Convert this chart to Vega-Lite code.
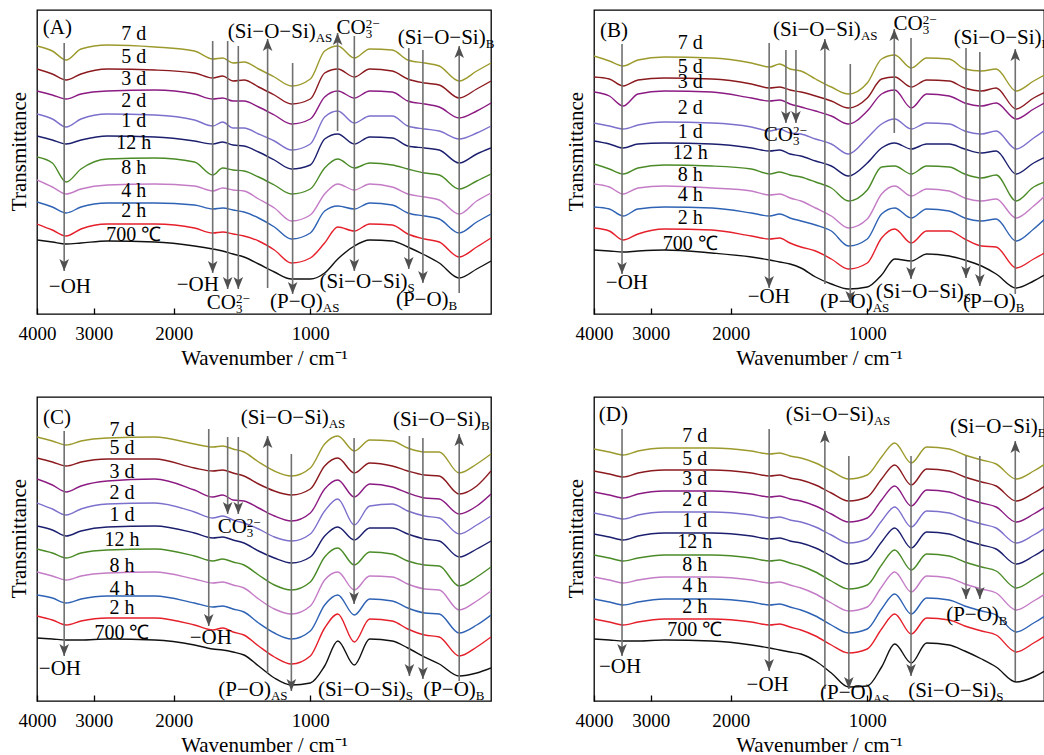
{
"$schema": "https://vega.github.io/schema/vega-lite/v6.json",
"background": "white",
"padding": {"left": 7, "top": 9, "right": 0, "bottom": 0},
"bounds": "flush",
"columns": 2,
"spacing": {"row": 83, "column": 103},
"config": {
  "font": "Liberation Serif",
  "view": {"stroke": "#000000", "strokeWidth": 1.3},
  "axis": {"grid": false, "domain": false, "titleFont": "Liberation Serif", "labelFont": "Liberation Serif", "titleFontWeight": "normal", "titleColor": "#000000", "labelColor": "#000000", "titleFontSize": 21},
  "axisX": {"tickSize": -6, "tickColor": "#000000", "tickWidth": 1.3, "labelFontSize": 19, "labelPadding": 31, "labelBaseline": "alphabetic", "labelFlush": false, "labelOverlap": false, "titleY": 50, "titleBaseline": "alphabetic"},
  "axisY": {"ticks": false, "labels": false, "titleX": -12, "titleY": 141, "titleAngle": 270, "titleBaseline": "alphabetic", "titleAlign": "center"},
  "text": {"font": "Liberation Serif", "color": "#000000"}
},
"datasets": {
"A": [
{"s":"7 d","w":4000,"v":268},{"s":"7 d","w":3700,"v":263},{"s":"7 d","w":3450,"v":254},{"s":"7 d","w":3200,"v":265},{"s":"7 d","w":2800,"v":269},{"s":"7 d","w":2200,"v":267},{"s":"7 d","w":1800,"v":263},{"s":"7 d","w":1640,"v":255},{"s":"7 d","w":1560,"v":256},{"s":"7 d","w":1480,"v":251},{"s":"7 d","w":1400,"v":252},{"s":"7 d","w":1300,"v":245},{"s":"7 d","w":1200,"v":237},{"s":"7 d","w":1100,"v":228},{"s":"7 d","w":1000,"v":235},{"s":"7 d","w":930,"v":263},{"s":"7 d","w":870,"v":268},{"s":"7 d","w":800,"v":256},{"s":"7 d","w":740,"v":265},{"s":"7 d","w":660,"v":264},{"s":"7 d","w":610,"v":254},{"s":"7 d","w":560,"v":251},{"s":"7 d","w":520,"v":248},{"s":"7 d","w":470,"v":233},{"s":"7 d","w":430,"v":243},{"s":"7 d","w":400,"v":251},
{"s":"5 d","w":4000,"v":245},{"s":"5 d","w":3700,"v":240},{"s":"5 d","w":3450,"v":234},{"s":"5 d","w":3200,"v":240},{"s":"5 d","w":2800,"v":245},{"s":"5 d","w":2200,"v":244},{"s":"5 d","w":1800,"v":241},{"s":"5 d","w":1640,"v":236},{"s":"5 d","w":1560,"v":238},{"s":"5 d","w":1480,"v":233},{"s":"5 d","w":1400,"v":234},{"s":"5 d","w":1300,"v":227},{"s":"5 d","w":1200,"v":219},{"s":"5 d","w":1100,"v":210},{"s":"5 d","w":1000,"v":215},{"s":"5 d","w":930,"v":241},{"s":"5 d","w":870,"v":245},{"s":"5 d","w":800,"v":237},{"s":"5 d","w":740,"v":245},{"s":"5 d","w":660,"v":243},{"s":"5 d","w":610,"v":235},{"s":"5 d","w":560,"v":231},{"s":"5 d","w":520,"v":229},{"s":"5 d","w":470,"v":216},{"s":"5 d","w":430,"v":225},{"s":"5 d","w":400,"v":233},
{"s":"3 d","w":4000,"v":223},{"s":"3 d","w":3700,"v":219},{"s":"3 d","w":3450,"v":215},{"s":"3 d","w":3200,"v":220},{"s":"3 d","w":2800,"v":223},{"s":"3 d","w":2200,"v":224},{"s":"3 d","w":1800,"v":220},{"s":"3 d","w":1640,"v":215},{"s":"3 d","w":1560,"v":216},{"s":"3 d","w":1480,"v":213},{"s":"3 d","w":1400,"v":213},{"s":"3 d","w":1300,"v":207},{"s":"3 d","w":1200,"v":199},{"s":"3 d","w":1100,"v":190},{"s":"3 d","w":1000,"v":195},{"s":"3 d","w":930,"v":217},{"s":"3 d","w":870,"v":223},{"s":"3 d","w":800,"v":216},{"s":"3 d","w":740,"v":223},{"s":"3 d","w":660,"v":222},{"s":"3 d","w":610,"v":213},{"s":"3 d","w":560,"v":210},{"s":"3 d","w":520,"v":207},{"s":"3 d","w":470,"v":196},{"s":"3 d","w":430,"v":203},{"s":"3 d","w":400,"v":211},
{"s":"2 d","w":4000,"v":200},{"s":"2 d","w":3700,"v":195},{"s":"2 d","w":3450,"v":187},{"s":"2 d","w":3200,"v":195},{"s":"2 d","w":2800,"v":200},{"s":"2 d","w":2200,"v":199},{"s":"2 d","w":1800,"v":194},{"s":"2 d","w":1640,"v":188},{"s":"2 d","w":1560,"v":192},{"s":"2 d","w":1480,"v":186},{"s":"2 d","w":1400,"v":186},{"s":"2 d","w":1300,"v":180},{"s":"2 d","w":1200,"v":173},{"s":"2 d","w":1100,"v":164},{"s":"2 d","w":1000,"v":170},{"s":"2 d","w":930,"v":197},{"s":"2 d","w":870,"v":203},{"s":"2 d","w":800,"v":191},{"s":"2 d","w":740,"v":198},{"s":"2 d","w":660,"v":198},{"s":"2 d","w":610,"v":188},{"s":"2 d","w":560,"v":185},{"s":"2 d","w":520,"v":183},{"s":"2 d","w":470,"v":175},{"s":"2 d","w":430,"v":181},{"s":"2 d","w":400,"v":188},
{"s":"1 d","w":4000,"v":178},{"s":"1 d","w":3700,"v":174},{"s":"1 d","w":3450,"v":170},{"s":"1 d","w":3200,"v":174},{"s":"1 d","w":2800,"v":178},{"s":"1 d","w":2200,"v":177},{"s":"1 d","w":1800,"v":173},{"s":"1 d","w":1640,"v":170},{"s":"1 d","w":1560,"v":172},{"s":"1 d","w":1480,"v":169},{"s":"1 d","w":1400,"v":168},{"s":"1 d","w":1300,"v":162},{"s":"1 d","w":1200,"v":154},{"s":"1 d","w":1100,"v":145},{"s":"1 d","w":1000,"v":149},{"s":"1 d","w":930,"v":175},{"s":"1 d","w":870,"v":180},{"s":"1 d","w":800,"v":170},{"s":"1 d","w":740,"v":177},{"s":"1 d","w":660,"v":176},{"s":"1 d","w":610,"v":168},{"s":"1 d","w":560,"v":166},{"s":"1 d","w":520,"v":164},{"s":"1 d","w":470,"v":151},{"s":"1 d","w":430,"v":160},{"s":"1 d","w":400,"v":166},
{"s":"12 h","w":4000,"v":157},{"s":"12 h","w":3700,"v":151},{"s":"12 h","w":3450,"v":132},{"s":"12 h","w":3200,"v":145},{"s":"12 h","w":2800,"v":155},{"s":"12 h","w":2200,"v":156},{"s":"12 h","w":1800,"v":152},{"s":"12 h","w":1640,"v":139},{"s":"12 h","w":1560,"v":146},{"s":"12 h","w":1480,"v":144},{"s":"12 h","w":1400,"v":143},{"s":"12 h","w":1300,"v":137},{"s":"12 h","w":1200,"v":129},{"s":"12 h","w":1100,"v":120},{"s":"12 h","w":1000,"v":125},{"s":"12 h","w":930,"v":146},{"s":"12 h","w":870,"v":155},{"s":"12 h","w":800,"v":146},{"s":"12 h","w":740,"v":151},{"s":"12 h","w":660,"v":149},{"s":"12 h","w":610,"v":145},{"s":"12 h","w":560,"v":141},{"s":"12 h","w":520,"v":139},{"s":"12 h","w":470,"v":125},{"s":"12 h","w":430,"v":133},{"s":"12 h","w":400,"v":140},
{"s":"8 h","w":4000,"v":134},{"s":"8 h","w":3700,"v":127},{"s":"8 h","w":3450,"v":120},{"s":"8 h","w":3200,"v":125},{"s":"8 h","w":2800,"v":129},{"s":"8 h","w":2200,"v":130},{"s":"8 h","w":1800,"v":128},{"s":"8 h","w":1640,"v":123},{"s":"8 h","w":1560,"v":126},{"s":"8 h","w":1480,"v":124},{"s":"8 h","w":1400,"v":123},{"s":"8 h","w":1300,"v":115},{"s":"8 h","w":1200,"v":106},{"s":"8 h","w":1100,"v":93},{"s":"8 h","w":1000,"v":99},{"s":"8 h","w":930,"v":120},{"s":"8 h","w":870,"v":130},{"s":"8 h","w":800,"v":124},{"s":"8 h","w":740,"v":130},{"s":"8 h","w":660,"v":127},{"s":"8 h","w":610,"v":120},{"s":"8 h","w":560,"v":117},{"s":"8 h","w":520,"v":114},{"s":"8 h","w":470,"v":100},{"s":"8 h","w":430,"v":113},{"s":"8 h","w":400,"v":121},
{"s":"4 h","w":4000,"v":112},{"s":"4 h","w":3700,"v":107},{"s":"4 h","w":3450,"v":101},{"s":"4 h","w":3200,"v":107},{"s":"4 h","w":2800,"v":111},{"s":"4 h","w":2200,"v":111},{"s":"4 h","w":1800,"v":109},{"s":"4 h","w":1640,"v":105},{"s":"4 h","w":1560,"v":106},{"s":"4 h","w":1480,"v":104},{"s":"4 h","w":1400,"v":102},{"s":"4 h","w":1300,"v":96},{"s":"4 h","w":1200,"v":87},{"s":"4 h","w":1100,"v":75},{"s":"4 h","w":1000,"v":81},{"s":"4 h","w":930,"v":103},{"s":"4 h","w":870,"v":108},{"s":"4 h","w":800,"v":105},{"s":"4 h","w":740,"v":111},{"s":"4 h","w":660,"v":109},{"s":"4 h","w":610,"v":101},{"s":"4 h","w":560,"v":98},{"s":"4 h","w":520,"v":95},{"s":"4 h","w":470,"v":81},{"s":"4 h","w":430,"v":92},{"s":"4 h","w":400,"v":100},
{"s":"2 h","w":4000,"v":90},{"s":"2 h","w":3700,"v":84},{"s":"2 h","w":3450,"v":78},{"s":"2 h","w":3200,"v":85},{"s":"2 h","w":2800,"v":90},{"s":"2 h","w":2200,"v":90},{"s":"2 h","w":1800,"v":86},{"s":"2 h","w":1640,"v":81},{"s":"2 h","w":1560,"v":82},{"s":"2 h","w":1480,"v":80},{"s":"2 h","w":1400,"v":78},{"s":"2 h","w":1300,"v":73},{"s":"2 h","w":1200,"v":64},{"s":"2 h","w":1100,"v":51},{"s":"2 h","w":1000,"v":56},{"s":"2 h","w":930,"v":71},{"s":"2 h","w":870,"v":87},{"s":"2 h","w":800,"v":83},{"s":"2 h","w":740,"v":90},{"s":"2 h","w":660,"v":89},{"s":"2 h","w":610,"v":80},{"s":"2 h","w":560,"v":75},{"s":"2 h","w":520,"v":72},{"s":"2 h","w":470,"v":57},{"s":"2 h","w":430,"v":67},{"s":"2 h","w":400,"v":76},
{"s":"700 ℃","w":4000,"v":74},{"s":"700 ℃","w":3700,"v":72},{"s":"700 ℃","w":3450,"v":70},{"s":"700 ℃","w":3200,"v":71},{"s":"700 ℃","w":2800,"v":73},{"s":"700 ℃","w":2200,"v":72},{"s":"700 ℃","w":1800,"v":68},{"s":"700 ℃","w":1640,"v":65},{"s":"700 ℃","w":1560,"v":63},{"s":"700 ℃","w":1480,"v":60},{"s":"700 ℃","w":1400,"v":57},{"s":"700 ℃","w":1300,"v":50},{"s":"700 ℃","w":1200,"v":42},{"s":"700 ℃","w":1100,"v":35},{"s":"700 ℃","w":1000,"v":35},{"s":"700 ℃","w":930,"v":41},{"s":"700 ℃","w":870,"v":55},{"s":"700 ℃","w":800,"v":68},{"s":"700 ℃","w":740,"v":74},{"s":"700 ℃","w":660,"v":73},{"s":"700 ℃","w":610,"v":67},{"s":"700 ℃","w":560,"v":59},{"s":"700 ℃","w":520,"v":51},{"s":"700 ℃","w":470,"v":36},{"s":"700 ℃","w":430,"v":45},{"s":"700 ℃","w":400,"v":53}
],
"B": [
{"s":"7 d","w":4000,"v":258},{"s":"7 d","w":3700,"v":253},{"s":"7 d","w":3450,"v":248},{"s":"7 d","w":3200,"v":254},{"s":"7 d","w":2800,"v":257},{"s":"7 d","w":2200,"v":256},{"s":"7 d","w":1800,"v":251},{"s":"7 d","w":1640,"v":247},{"s":"7 d","w":1560,"v":250},{"s":"7 d","w":1480,"v":245},{"s":"7 d","w":1400,"v":243},{"s":"7 d","w":1300,"v":235},{"s":"7 d","w":1200,"v":227},{"s":"7 d","w":1100,"v":220},{"s":"7 d","w":1000,"v":231},{"s":"7 d","w":930,"v":255},{"s":"7 d","w":870,"v":259},{"s":"7 d","w":800,"v":246},{"s":"7 d","w":740,"v":256},{"s":"7 d","w":660,"v":255},{"s":"7 d","w":610,"v":245},{"s":"7 d","w":560,"v":243},{"s":"7 d","w":520,"v":245},{"s":"7 d","w":470,"v":223},{"s":"7 d","w":430,"v":233},{"s":"7 d","w":400,"v":241},
{"s":"5 d","w":4000,"v":237},{"s":"5 d","w":3700,"v":235},{"s":"5 d","w":3450,"v":228},{"s":"5 d","w":3200,"v":234},{"s":"5 d","w":2800,"v":236},{"s":"5 d","w":2200,"v":235},{"s":"5 d","w":1800,"v":230},{"s":"5 d","w":1640,"v":226},{"s":"5 d","w":1560,"v":227},{"s":"5 d","w":1480,"v":224},{"s":"5 d","w":1400,"v":222},{"s":"5 d","w":1300,"v":218},{"s":"5 d","w":1200,"v":213},{"s":"5 d","w":1100,"v":206},{"s":"5 d","w":1000,"v":216},{"s":"5 d","w":930,"v":235},{"s":"5 d","w":870,"v":237},{"s":"5 d","w":800,"v":227},{"s":"5 d","w":740,"v":234},{"s":"5 d","w":660,"v":233},{"s":"5 d","w":610,"v":226},{"s":"5 d","w":560,"v":223},{"s":"5 d","w":520,"v":226},{"s":"5 d","w":470,"v":205},{"s":"5 d","w":430,"v":216},{"s":"5 d","w":400,"v":223},
{"s":"3 d","w":4000,"v":222},{"s":"3 d","w":3700,"v":218},{"s":"3 d","w":3450,"v":208},{"s":"3 d","w":3200,"v":220},{"s":"3 d","w":2800,"v":223},{"s":"3 d","w":2200,"v":222},{"s":"3 d","w":1800,"v":216},{"s":"3 d","w":1640,"v":213},{"s":"3 d","w":1560,"v":214},{"s":"3 d","w":1480,"v":210},{"s":"3 d","w":1400,"v":207},{"s":"3 d","w":1300,"v":203},{"s":"3 d","w":1200,"v":198},{"s":"3 d","w":1100,"v":190},{"s":"3 d","w":1000,"v":203},{"s":"3 d","w":930,"v":220},{"s":"3 d","w":870,"v":224},{"s":"3 d","w":800,"v":206},{"s":"3 d","w":740,"v":220},{"s":"3 d","w":660,"v":218},{"s":"3 d","w":610,"v":211},{"s":"3 d","w":560,"v":208},{"s":"3 d","w":520,"v":211},{"s":"3 d","w":470,"v":195},{"s":"3 d","w":430,"v":205},{"s":"3 d","w":400,"v":213},
{"s":"2 d","w":4000,"v":191},{"s":"2 d","w":3700,"v":188},{"s":"2 d","w":3450,"v":185},{"s":"2 d","w":3200,"v":189},{"s":"2 d","w":2800,"v":192},{"s":"2 d","w":2200,"v":191},{"s":"2 d","w":1800,"v":187},{"s":"2 d","w":1640,"v":183},{"s":"2 d","w":1560,"v":185},{"s":"2 d","w":1480,"v":181},{"s":"2 d","w":1400,"v":180},{"s":"2 d","w":1300,"v":175},{"s":"2 d","w":1200,"v":170},{"s":"2 d","w":1100,"v":160},{"s":"2 d","w":1000,"v":176},{"s":"2 d","w":930,"v":190},{"s":"2 d","w":870,"v":195},{"s":"2 d","w":800,"v":185},{"s":"2 d","w":740,"v":191},{"s":"2 d","w":660,"v":190},{"s":"2 d","w":610,"v":183},{"s":"2 d","w":560,"v":180},{"s":"2 d","w":520,"v":183},{"s":"2 d","w":470,"v":165},{"s":"2 d","w":430,"v":176},{"s":"2 d","w":400,"v":186},
{"s":"1 d","w":4000,"v":173},{"s":"1 d","w":3700,"v":170},{"s":"1 d","w":3450,"v":166},{"s":"1 d","w":3200,"v":170},{"s":"1 d","w":2800,"v":171},{"s":"1 d","w":2200,"v":170},{"s":"1 d","w":1800,"v":166},{"s":"1 d","w":1640,"v":163},{"s":"1 d","w":1560,"v":164},{"s":"1 d","w":1480,"v":160},{"s":"1 d","w":1400,"v":158},{"s":"1 d","w":1300,"v":153},{"s":"1 d","w":1200,"v":148},{"s":"1 d","w":1100,"v":138},{"s":"1 d","w":1000,"v":151},{"s":"1 d","w":930,"v":166},{"s":"1 d","w":870,"v":171},{"s":"1 d","w":800,"v":165},{"s":"1 d","w":740,"v":170},{"s":"1 d","w":660,"v":170},{"s":"1 d","w":610,"v":165},{"s":"1 d","w":560,"v":161},{"s":"1 d","w":520,"v":163},{"s":"1 d","w":470,"v":140},{"s":"1 d","w":430,"v":151},{"s":"1 d","w":400,"v":158},
{"s":"12 h","w":4000,"v":150},{"s":"12 h","w":3700,"v":145},{"s":"12 h","w":3450,"v":140},{"s":"12 h","w":3200,"v":146},{"s":"12 h","w":2800,"v":149},{"s":"12 h","w":2200,"v":148},{"s":"12 h","w":1800,"v":145},{"s":"12 h","w":1640,"v":140},{"s":"12 h","w":1560,"v":142},{"s":"12 h","w":1480,"v":139},{"s":"12 h","w":1400,"v":137},{"s":"12 h","w":1300,"v":132},{"s":"12 h","w":1200,"v":126},{"s":"12 h","w":1100,"v":113},{"s":"12 h","w":1000,"v":124},{"s":"12 h","w":930,"v":147},{"s":"12 h","w":870,"v":148},{"s":"12 h","w":800,"v":140},{"s":"12 h","w":740,"v":148},{"s":"12 h","w":660,"v":147},{"s":"12 h","w":610,"v":140},{"s":"12 h","w":560,"v":136},{"s":"12 h","w":520,"v":139},{"s":"12 h","w":470,"v":113},{"s":"12 h","w":430,"v":127},{"s":"12 h","w":400,"v":133},
{"s":"8 h","w":4000,"v":130},{"s":"8 h","w":3700,"v":127},{"s":"8 h","w":3450,"v":120},{"s":"8 h","w":3200,"v":126},{"s":"8 h","w":2800,"v":128},{"s":"8 h","w":2200,"v":126},{"s":"8 h","w":1800,"v":123},{"s":"8 h","w":1640,"v":119},{"s":"8 h","w":1560,"v":120},{"s":"8 h","w":1480,"v":116},{"s":"8 h","w":1400,"v":113},{"s":"8 h","w":1300,"v":106},{"s":"8 h","w":1200,"v":98},{"s":"8 h","w":1100,"v":86},{"s":"8 h","w":1000,"v":95},{"s":"8 h","w":930,"v":120},{"s":"8 h","w":870,"v":128},{"s":"8 h","w":800,"v":118},{"s":"8 h","w":740,"v":125},{"s":"8 h","w":660,"v":123},{"s":"8 h","w":610,"v":116},{"s":"8 h","w":560,"v":113},{"s":"8 h","w":520,"v":115},{"s":"8 h","w":470,"v":96},{"s":"8 h","w":430,"v":108},{"s":"8 h","w":400,"v":121},
{"s":"4 h","w":4000,"v":107},{"s":"4 h","w":3700,"v":105},{"s":"4 h","w":3450,"v":98},{"s":"4 h","w":3200,"v":105},{"s":"4 h","w":2800,"v":107},{"s":"4 h","w":2200,"v":106},{"s":"4 h","w":1800,"v":101},{"s":"4 h","w":1640,"v":98},{"s":"4 h","w":1560,"v":100},{"s":"4 h","w":1480,"v":96},{"s":"4 h","w":1400,"v":93},{"s":"4 h","w":1300,"v":89},{"s":"4 h","w":1200,"v":83},{"s":"4 h","w":1100,"v":68},{"s":"4 h","w":1000,"v":75},{"s":"4 h","w":930,"v":100},{"s":"4 h","w":870,"v":106},{"s":"4 h","w":800,"v":96},{"s":"4 h","w":740,"v":105},{"s":"4 h","w":660,"v":103},{"s":"4 h","w":610,"v":96},{"s":"4 h","w":560,"v":93},{"s":"4 h","w":520,"v":95},{"s":"4 h","w":470,"v":73},{"s":"4 h","w":430,"v":85},{"s":"4 h","w":400,"v":98},
{"s":"2 h","w":4000,"v":86},{"s":"2 h","w":3700,"v":83},{"s":"2 h","w":3450,"v":74},{"s":"2 h","w":3200,"v":80},{"s":"2 h","w":2800,"v":85},{"s":"2 h","w":2200,"v":84},{"s":"2 h","w":1800,"v":78},{"s":"2 h","w":1640,"v":75},{"s":"2 h","w":1560,"v":76},{"s":"2 h","w":1480,"v":71},{"s":"2 h","w":1400,"v":67},{"s":"2 h","w":1300,"v":63},{"s":"2 h","w":1200,"v":55},{"s":"2 h","w":1100,"v":45},{"s":"2 h","w":1000,"v":51},{"s":"2 h","w":930,"v":76},{"s":"2 h","w":870,"v":85},{"s":"2 h","w":800,"v":71},{"s":"2 h","w":740,"v":83},{"s":"2 h","w":660,"v":83},{"s":"2 h","w":610,"v":75},{"s":"2 h","w":560,"v":68},{"s":"2 h","w":520,"v":67},{"s":"2 h","w":470,"v":46},{"s":"2 h","w":430,"v":55},{"s":"2 h","w":400,"v":63},
{"s":"700 ℃","w":4000,"v":64},{"s":"700 ℃","w":3700,"v":63},{"s":"700 ℃","w":3450,"v":62},{"s":"700 ℃","w":3200,"v":63},{"s":"700 ℃","w":2800,"v":64},{"s":"700 ℃","w":2200,"v":61},{"s":"700 ℃","w":1800,"v":57},{"s":"700 ℃","w":1640,"v":54},{"s":"700 ℃","w":1560,"v":52},{"s":"700 ℃","w":1480,"v":50},{"s":"700 ℃","w":1400,"v":46},{"s":"700 ℃","w":1300,"v":37},{"s":"700 ℃","w":1200,"v":30},{"s":"700 ℃","w":1100,"v":25},{"s":"700 ℃","w":1000,"v":27},{"s":"700 ℃","w":930,"v":39},{"s":"700 ℃","w":870,"v":55},{"s":"700 ℃","w":800,"v":53},{"s":"700 ℃","w":740,"v":60},{"s":"700 ℃","w":660,"v":58},{"s":"700 ℃","w":610,"v":54},{"s":"700 ℃","w":560,"v":48},{"s":"700 ℃","w":520,"v":40},{"s":"700 ℃","w":470,"v":26},{"s":"700 ℃","w":430,"v":33},{"s":"700 ℃","w":400,"v":41}
],
"C": [
{"s":"7 d","w":4000,"v":264},{"s":"7 d","w":3700,"v":260},{"s":"7 d","w":3450,"v":256},{"s":"7 d","w":3200,"v":260},{"s":"7 d","w":2800,"v":263},{"s":"7 d","w":2200,"v":264},{"s":"7 d","w":1800,"v":257},{"s":"7 d","w":1640,"v":254},{"s":"7 d","w":1560,"v":255},{"s":"7 d","w":1480,"v":252},{"s":"7 d","w":1400,"v":249},{"s":"7 d","w":1300,"v":239},{"s":"7 d","w":1200,"v":230},{"s":"7 d","w":1100,"v":225},{"s":"7 d","w":1000,"v":233},{"s":"7 d","w":930,"v":257},{"s":"7 d","w":870,"v":265},{"s":"7 d","w":800,"v":250},{"s":"7 d","w":740,"v":261},{"s":"7 d","w":660,"v":260},{"s":"7 d","w":610,"v":253},{"s":"7 d","w":560,"v":249},{"s":"7 d","w":520,"v":249},{"s":"7 d","w":470,"v":228},{"s":"7 d","w":430,"v":237},{"s":"7 d","w":400,"v":247},
{"s":"5 d","w":4000,"v":243},{"s":"5 d","w":3700,"v":239},{"s":"5 d","w":3450,"v":235},{"s":"5 d","w":3200,"v":239},{"s":"5 d","w":2800,"v":242},{"s":"5 d","w":2200,"v":242},{"s":"5 d","w":1800,"v":233},{"s":"5 d","w":1640,"v":230},{"s":"5 d","w":1560,"v":231},{"s":"5 d","w":1480,"v":228},{"s":"5 d","w":1400,"v":225},{"s":"5 d","w":1300,"v":217},{"s":"5 d","w":1200,"v":210},{"s":"5 d","w":1100,"v":206},{"s":"5 d","w":1000,"v":212},{"s":"5 d","w":930,"v":235},{"s":"5 d","w":870,"v":243},{"s":"5 d","w":800,"v":228},{"s":"5 d","w":740,"v":238},{"s":"5 d","w":660,"v":235},{"s":"5 d","w":610,"v":230},{"s":"5 d","w":560,"v":226},{"s":"5 d","w":520,"v":225},{"s":"5 d","w":470,"v":207},{"s":"5 d","w":430,"v":215},{"s":"5 d","w":400,"v":230},
{"s":"3 d","w":4000,"v":222},{"s":"3 d","w":3700,"v":216},{"s":"3 d","w":3450,"v":209},{"s":"3 d","w":3200,"v":215},{"s":"3 d","w":2800,"v":220},{"s":"3 d","w":2200,"v":222},{"s":"3 d","w":1800,"v":211},{"s":"3 d","w":1640,"v":204},{"s":"3 d","w":1560,"v":206},{"s":"3 d","w":1480,"v":201},{"s":"3 d","w":1400,"v":200},{"s":"3 d","w":1300,"v":193},{"s":"3 d","w":1200,"v":185},{"s":"3 d","w":1100,"v":180},{"s":"3 d","w":1000,"v":188},{"s":"3 d","w":930,"v":212},{"s":"3 d","w":870,"v":221},{"s":"3 d","w":800,"v":204},{"s":"3 d","w":740,"v":217},{"s":"3 d","w":660,"v":214},{"s":"3 d","w":610,"v":208},{"s":"3 d","w":560,"v":203},{"s":"3 d","w":520,"v":202},{"s":"3 d","w":470,"v":187},{"s":"3 d","w":430,"v":195},{"s":"3 d","w":400,"v":207},
{"s":"2 d","w":4000,"v":198},{"s":"2 d","w":3700,"v":192},{"s":"2 d","w":3450,"v":186},{"s":"2 d","w":3200,"v":192},{"s":"2 d","w":2800,"v":197},{"s":"2 d","w":2200,"v":198},{"s":"2 d","w":1800,"v":189},{"s":"2 d","w":1640,"v":183},{"s":"2 d","w":1560,"v":185},{"s":"2 d","w":1480,"v":181},{"s":"2 d","w":1400,"v":178},{"s":"2 d","w":1300,"v":172},{"s":"2 d","w":1200,"v":164},{"s":"2 d","w":1100,"v":160},{"s":"2 d","w":1000,"v":167},{"s":"2 d","w":930,"v":190},{"s":"2 d","w":870,"v":202},{"s":"2 d","w":800,"v":176},{"s":"2 d","w":740,"v":195},{"s":"2 d","w":660,"v":197},{"s":"2 d","w":610,"v":190},{"s":"2 d","w":560,"v":185},{"s":"2 d","w":520,"v":183},{"s":"2 d","w":470,"v":167},{"s":"2 d","w":430,"v":176},{"s":"2 d","w":400,"v":185},
{"s":"1 d","w":4000,"v":175},{"s":"1 d","w":3700,"v":171},{"s":"1 d","w":3450,"v":165},{"s":"1 d","w":3200,"v":170},{"s":"1 d","w":2800,"v":174},{"s":"1 d","w":2200,"v":175},{"s":"1 d","w":1800,"v":168},{"s":"1 d","w":1640,"v":163},{"s":"1 d","w":1560,"v":164},{"s":"1 d","w":1480,"v":161},{"s":"1 d","w":1400,"v":158},{"s":"1 d","w":1300,"v":150},{"s":"1 d","w":1200,"v":143},{"s":"1 d","w":1100,"v":138},{"s":"1 d","w":1000,"v":144},{"s":"1 d","w":930,"v":165},{"s":"1 d","w":870,"v":174},{"s":"1 d","w":800,"v":161},{"s":"1 d","w":740,"v":173},{"s":"1 d","w":660,"v":173},{"s":"1 d","w":610,"v":167},{"s":"1 d","w":560,"v":162},{"s":"1 d","w":520,"v":160},{"s":"1 d","w":470,"v":144},{"s":"1 d","w":430,"v":152},{"s":"1 d","w":400,"v":160},
{"s":"12 h","w":4000,"v":152},{"s":"12 h","w":3700,"v":148},{"s":"12 h","w":3450,"v":143},{"s":"12 h","w":3200,"v":148},{"s":"12 h","w":2800,"v":151},{"s":"12 h","w":2200,"v":152},{"s":"12 h","w":1800,"v":145},{"s":"12 h","w":1640,"v":140},{"s":"12 h","w":1560,"v":142},{"s":"12 h","w":1480,"v":139},{"s":"12 h","w":1400,"v":136},{"s":"12 h","w":1300,"v":126},{"s":"12 h","w":1200,"v":116},{"s":"12 h","w":1100,"v":111},{"s":"12 h","w":1000,"v":119},{"s":"12 h","w":930,"v":144},{"s":"12 h","w":870,"v":153},{"s":"12 h","w":800,"v":136},{"s":"12 h","w":740,"v":149},{"s":"12 h","w":660,"v":147},{"s":"12 h","w":610,"v":140},{"s":"12 h","w":560,"v":136},{"s":"12 h","w":520,"v":135},{"s":"12 h","w":470,"v":115},{"s":"12 h","w":430,"v":124},{"s":"12 h","w":400,"v":134},
{"s":"8 h","w":4000,"v":129},{"s":"8 h","w":3700,"v":125},{"s":"8 h","w":3450,"v":121},{"s":"8 h","w":3200,"v":125},{"s":"8 h","w":2800,"v":128},{"s":"8 h","w":2200,"v":129},{"s":"8 h","w":1800,"v":122},{"s":"8 h","w":1640,"v":118},{"s":"8 h","w":1560,"v":119},{"s":"8 h","w":1480,"v":116},{"s":"8 h","w":1400,"v":113},{"s":"8 h","w":1300,"v":102},{"s":"8 h","w":1200,"v":92},{"s":"8 h","w":1100,"v":87},{"s":"8 h","w":1000,"v":95},{"s":"8 h","w":930,"v":121},{"s":"8 h","w":870,"v":129},{"s":"8 h","w":800,"v":111},{"s":"8 h","w":740,"v":125},{"s":"8 h","w":660,"v":124},{"s":"8 h","w":610,"v":117},{"s":"8 h","w":560,"v":112},{"s":"8 h","w":520,"v":111},{"s":"8 h","w":470,"v":91},{"s":"8 h","w":430,"v":100},{"s":"8 h","w":400,"v":110},
{"s":"4 h","w":4000,"v":106},{"s":"4 h","w":3700,"v":103},{"s":"4 h","w":3450,"v":98},{"s":"4 h","w":3200,"v":102},{"s":"4 h","w":2800,"v":105},{"s":"4 h","w":2200,"v":105},{"s":"4 h","w":1800,"v":98},{"s":"4 h","w":1640,"v":94},{"s":"4 h","w":1560,"v":95},{"s":"4 h","w":1480,"v":92},{"s":"4 h","w":1400,"v":89},{"s":"4 h","w":1300,"v":78},{"s":"4 h","w":1200,"v":68},{"s":"4 h","w":1100,"v":62},{"s":"4 h","w":1000,"v":70},{"s":"4 h","w":930,"v":96},{"s":"4 h","w":870,"v":106},{"s":"4 h","w":800,"v":86},{"s":"4 h","w":740,"v":102},{"s":"4 h","w":660,"v":100},{"s":"4 h","w":610,"v":93},{"s":"4 h","w":560,"v":88},{"s":"4 h","w":520,"v":87},{"s":"4 h","w":470,"v":68},{"s":"4 h","w":430,"v":76},{"s":"4 h","w":400,"v":86},
{"s":"2 h","w":4000,"v":85},{"s":"2 h","w":3700,"v":81},{"s":"2 h","w":3450,"v":76},{"s":"2 h","w":3200,"v":80},{"s":"2 h","w":2800,"v":83},{"s":"2 h","w":2200,"v":83},{"s":"2 h","w":1800,"v":76},{"s":"2 h","w":1640,"v":71},{"s":"2 h","w":1560,"v":73},{"s":"2 h","w":1480,"v":69},{"s":"2 h","w":1400,"v":66},{"s":"2 h","w":1300,"v":55},{"s":"2 h","w":1200,"v":44},{"s":"2 h","w":1100,"v":37},{"s":"2 h","w":1000,"v":45},{"s":"2 h","w":930,"v":73},{"s":"2 h","w":870,"v":87},{"s":"2 h","w":800,"v":59},{"s":"2 h","w":740,"v":82},{"s":"2 h","w":660,"v":80},{"s":"2 h","w":610,"v":72},{"s":"2 h","w":560,"v":66},{"s":"2 h","w":520,"v":64},{"s":"2 h","w":470,"v":45},{"s":"2 h","w":430,"v":54},{"s":"2 h","w":400,"v":64},
{"s":"700 ℃","w":4000,"v":63},{"s":"700 ℃","w":3700,"v":62},{"s":"700 ℃","w":3450,"v":61},{"s":"700 ℃","w":3200,"v":61},{"s":"700 ℃","w":2800,"v":62},{"s":"700 ℃","w":2200,"v":61},{"s":"700 ℃","w":1800,"v":56},{"s":"700 ℃","w":1640,"v":52},{"s":"700 ℃","w":1560,"v":51},{"s":"700 ℃","w":1480,"v":49},{"s":"700 ℃","w":1400,"v":46},{"s":"700 ℃","w":1300,"v":35},{"s":"700 ℃","w":1200,"v":23},{"s":"700 ℃","w":1100,"v":16},{"s":"700 ℃","w":1000,"v":18},{"s":"700 ℃","w":930,"v":35},{"s":"700 ℃","w":870,"v":60},{"s":"700 ℃","w":800,"v":36},{"s":"700 ℃","w":740,"v":62},{"s":"700 ℃","w":660,"v":60},{"s":"700 ℃","w":610,"v":53},{"s":"700 ℃","w":560,"v":44},{"s":"700 ℃","w":520,"v":37},{"s":"700 ℃","w":470,"v":25},{"s":"700 ℃","w":430,"v":28},{"s":"700 ℃","w":400,"v":33}
],
"D": [
{"s":"7 d","w":4000,"v":252},{"s":"7 d","w":3700,"v":249},{"s":"7 d","w":3450,"v":246},{"s":"7 d","w":3200,"v":250},{"s":"7 d","w":2800,"v":253},{"s":"7 d","w":2200,"v":253},{"s":"7 d","w":1800,"v":250},{"s":"7 d","w":1640,"v":247},{"s":"7 d","w":1560,"v":248},{"s":"7 d","w":1480,"v":245},{"s":"7 d","w":1400,"v":243},{"s":"7 d","w":1300,"v":238},{"s":"7 d","w":1200,"v":230},{"s":"7 d","w":1100,"v":222},{"s":"7 d","w":1000,"v":226},{"s":"7 d","w":930,"v":244},{"s":"7 d","w":870,"v":258},{"s":"7 d","w":800,"v":238},{"s":"7 d","w":740,"v":254},{"s":"7 d","w":660,"v":252},{"s":"7 d","w":610,"v":246},{"s":"7 d","w":560,"v":241},{"s":"7 d","w":520,"v":237},{"s":"7 d","w":470,"v":222},{"s":"7 d","w":430,"v":230},{"s":"7 d","w":400,"v":239},
{"s":"5 d","w":4000,"v":230},{"s":"5 d","w":3700,"v":227},{"s":"5 d","w":3450,"v":224},{"s":"5 d","w":3200,"v":228},{"s":"5 d","w":2800,"v":231},{"s":"5 d","w":2200,"v":231},{"s":"5 d","w":1800,"v":228},{"s":"5 d","w":1640,"v":225},{"s":"5 d","w":1560,"v":226},{"s":"5 d","w":1480,"v":223},{"s":"5 d","w":1400,"v":221},{"s":"5 d","w":1300,"v":216},{"s":"5 d","w":1200,"v":208},{"s":"5 d","w":1100,"v":200},{"s":"5 d","w":1000,"v":204},{"s":"5 d","w":930,"v":222},{"s":"5 d","w":870,"v":236},{"s":"5 d","w":800,"v":216},{"s":"5 d","w":740,"v":232},{"s":"5 d","w":660,"v":230},{"s":"5 d","w":610,"v":224},{"s":"5 d","w":560,"v":219},{"s":"5 d","w":520,"v":215},{"s":"5 d","w":470,"v":200},{"s":"5 d","w":430,"v":208},{"s":"5 d","w":400,"v":217},
{"s":"3 d","w":4000,"v":209},{"s":"3 d","w":3700,"v":206},{"s":"3 d","w":3450,"v":203},{"s":"3 d","w":3200,"v":207},{"s":"3 d","w":2800,"v":210},{"s":"3 d","w":2200,"v":210},{"s":"3 d","w":1800,"v":207},{"s":"3 d","w":1640,"v":204},{"s":"3 d","w":1560,"v":205},{"s":"3 d","w":1480,"v":202},{"s":"3 d","w":1400,"v":200},{"s":"3 d","w":1300,"v":195},{"s":"3 d","w":1200,"v":187},{"s":"3 d","w":1100,"v":179},{"s":"3 d","w":1000,"v":183},{"s":"3 d","w":930,"v":201},{"s":"3 d","w":870,"v":215},{"s":"3 d","w":800,"v":195},{"s":"3 d","w":740,"v":211},{"s":"3 d","w":660,"v":209},{"s":"3 d","w":610,"v":203},{"s":"3 d","w":560,"v":198},{"s":"3 d","w":520,"v":194},{"s":"3 d","w":470,"v":179},{"s":"3 d","w":430,"v":187},{"s":"3 d","w":400,"v":196},
{"s":"2 d","w":4000,"v":188},{"s":"2 d","w":3700,"v":185},{"s":"2 d","w":3450,"v":182},{"s":"2 d","w":3200,"v":186},{"s":"2 d","w":2800,"v":189},{"s":"2 d","w":2200,"v":189},{"s":"2 d","w":1800,"v":186},{"s":"2 d","w":1640,"v":183},{"s":"2 d","w":1560,"v":184},{"s":"2 d","w":1480,"v":181},{"s":"2 d","w":1400,"v":179},{"s":"2 d","w":1300,"v":174},{"s":"2 d","w":1200,"v":166},{"s":"2 d","w":1100,"v":158},{"s":"2 d","w":1000,"v":162},{"s":"2 d","w":930,"v":180},{"s":"2 d","w":870,"v":194},{"s":"2 d","w":800,"v":174},{"s":"2 d","w":740,"v":190},{"s":"2 d","w":660,"v":188},{"s":"2 d","w":610,"v":182},{"s":"2 d","w":560,"v":177},{"s":"2 d","w":520,"v":173},{"s":"2 d","w":470,"v":158},{"s":"2 d","w":430,"v":166},{"s":"2 d","w":400,"v":175},
{"s":"1 d","w":4000,"v":167},{"s":"1 d","w":3700,"v":164},{"s":"1 d","w":3450,"v":161},{"s":"1 d","w":3200,"v":165},{"s":"1 d","w":2800,"v":168},{"s":"1 d","w":2200,"v":168},{"s":"1 d","w":1800,"v":165},{"s":"1 d","w":1640,"v":162},{"s":"1 d","w":1560,"v":163},{"s":"1 d","w":1480,"v":160},{"s":"1 d","w":1400,"v":158},{"s":"1 d","w":1300,"v":153},{"s":"1 d","w":1200,"v":145},{"s":"1 d","w":1100,"v":137},{"s":"1 d","w":1000,"v":141},{"s":"1 d","w":930,"v":159},{"s":"1 d","w":870,"v":173},{"s":"1 d","w":800,"v":153},{"s":"1 d","w":740,"v":169},{"s":"1 d","w":660,"v":167},{"s":"1 d","w":610,"v":161},{"s":"1 d","w":560,"v":156},{"s":"1 d","w":520,"v":152},{"s":"1 d","w":470,"v":137},{"s":"1 d","w":430,"v":145},{"s":"1 d","w":400,"v":154},
{"s":"12 h","w":4000,"v":146},{"s":"12 h","w":3700,"v":143},{"s":"12 h","w":3450,"v":140},{"s":"12 h","w":3200,"v":143},{"s":"12 h","w":2800,"v":146},{"s":"12 h","w":2200,"v":146},{"s":"12 h","w":1800,"v":143},{"s":"12 h","w":1640,"v":140},{"s":"12 h","w":1560,"v":141},{"s":"12 h","w":1480,"v":138},{"s":"12 h","w":1400,"v":135},{"s":"12 h","w":1300,"v":129},{"s":"12 h","w":1200,"v":120},{"s":"12 h","w":1100,"v":112},{"s":"12 h","w":1000,"v":116},{"s":"12 h","w":930,"v":136},{"s":"12 h","w":870,"v":151},{"s":"12 h","w":800,"v":131},{"s":"12 h","w":740,"v":147},{"s":"12 h","w":660,"v":145},{"s":"12 h","w":610,"v":139},{"s":"12 h","w":560,"v":134},{"s":"12 h","w":520,"v":130},{"s":"12 h","w":470,"v":113},{"s":"12 h","w":430,"v":122},{"s":"12 h","w":400,"v":131},
{"s":"8 h","w":4000,"v":124},{"s":"8 h","w":3700,"v":121},{"s":"8 h","w":3450,"v":118},{"s":"8 h","w":3200,"v":121},{"s":"8 h","w":2800,"v":124},{"s":"8 h","w":2200,"v":124},{"s":"8 h","w":1800,"v":121},{"s":"8 h","w":1640,"v":118},{"s":"8 h","w":1560,"v":119},{"s":"8 h","w":1480,"v":116},{"s":"8 h","w":1400,"v":113},{"s":"8 h","w":1300,"v":107},{"s":"8 h","w":1200,"v":98},{"s":"8 h","w":1100,"v":90},{"s":"8 h","w":1000,"v":94},{"s":"8 h","w":930,"v":114},{"s":"8 h","w":870,"v":129},{"s":"8 h","w":800,"v":109},{"s":"8 h","w":740,"v":125},{"s":"8 h","w":660,"v":123},{"s":"8 h","w":610,"v":117},{"s":"8 h","w":560,"v":112},{"s":"8 h","w":520,"v":108},{"s":"8 h","w":470,"v":91},{"s":"8 h","w":430,"v":100},{"s":"8 h","w":400,"v":109},
{"s":"4 h","w":4000,"v":102},{"s":"4 h","w":3700,"v":99},{"s":"4 h","w":3450,"v":96},{"s":"4 h","w":3200,"v":99},{"s":"4 h","w":2800,"v":102},{"s":"4 h","w":2200,"v":102},{"s":"4 h","w":1800,"v":99},{"s":"4 h","w":1640,"v":96},{"s":"4 h","w":1560,"v":97},{"s":"4 h","w":1480,"v":94},{"s":"4 h","w":1400,"v":91},{"s":"4 h","w":1300,"v":85},{"s":"4 h","w":1200,"v":76},{"s":"4 h","w":1100,"v":68},{"s":"4 h","w":1000,"v":72},{"s":"4 h","w":930,"v":92},{"s":"4 h","w":870,"v":107},{"s":"4 h","w":800,"v":87},{"s":"4 h","w":740,"v":103},{"s":"4 h","w":660,"v":101},{"s":"4 h","w":610,"v":95},{"s":"4 h","w":560,"v":90},{"s":"4 h","w":520,"v":86},{"s":"4 h","w":470,"v":69},{"s":"4 h","w":430,"v":78},{"s":"4 h","w":400,"v":87},
{"s":"2 h","w":4000,"v":82},{"s":"2 h","w":3700,"v":79},{"s":"2 h","w":3450,"v":76},{"s":"2 h","w":3200,"v":79},{"s":"2 h","w":2800,"v":82},{"s":"2 h","w":2200,"v":82},{"s":"2 h","w":1800,"v":79},{"s":"2 h","w":1640,"v":76},{"s":"2 h","w":1560,"v":77},{"s":"2 h","w":1480,"v":74},{"s":"2 h","w":1400,"v":71},{"s":"2 h","w":1300,"v":65},{"s":"2 h","w":1200,"v":56},{"s":"2 h","w":1100,"v":48},{"s":"2 h","w":1000,"v":52},{"s":"2 h","w":930,"v":72},{"s":"2 h","w":870,"v":87},{"s":"2 h","w":800,"v":67},{"s":"2 h","w":740,"v":83},{"s":"2 h","w":660,"v":81},{"s":"2 h","w":610,"v":75},{"s":"2 h","w":560,"v":70},{"s":"2 h","w":520,"v":66},{"s":"2 h","w":470,"v":49},{"s":"2 h","w":430,"v":58},{"s":"2 h","w":400,"v":67},
{"s":"700 ℃","w":4000,"v":62},{"s":"700 ℃","w":3700,"v":61},{"s":"700 ℃","w":3450,"v":60},{"s":"700 ℃","w":3200,"v":60},{"s":"700 ℃","w":2800,"v":61},{"s":"700 ℃","w":2200,"v":60},{"s":"700 ℃","w":1800,"v":56},{"s":"700 ℃","w":1640,"v":53},{"s":"700 ℃","w":1560,"v":51},{"s":"700 ℃","w":1480,"v":49},{"s":"700 ℃","w":1400,"v":47},{"s":"700 ℃","w":1300,"v":40},{"s":"700 ℃","w":1200,"v":28},{"s":"700 ℃","w":1100,"v":14},{"s":"700 ℃","w":1000,"v":15},{"s":"700 ℃","w":930,"v":34},{"s":"700 ℃","w":870,"v":57},{"s":"700 ℃","w":800,"v":38},{"s":"700 ℃","w":740,"v":58},{"s":"700 ℃","w":660,"v":56},{"s":"700 ℃","w":610,"v":50},{"s":"700 ℃","w":560,"v":42},{"s":"700 ℃","w":520,"v":34},{"s":"700 ℃","w":470,"v":19},{"s":"700 ℃","w":430,"v":24},{"s":"700 ℃","w":400,"v":32}
],
"aA": [
{"w":3485,"t":271,"h":43,"d":"down"},{"w":1641,"t":273,"h":41,"d":"down"},{"w":1521,"t":273,"h":25,"d":"down"},{"w":1441,"t":268,"h":25,"d":"down"},{"w":1242,"t":26,"h":275,"d":"up"},{"w":1094,"t":251,"h":20,"d":"down"},{"w":871,"t":183,"h":281,"d":"up"},{"w":800,"t":278,"h":43,"d":"down"},{"w":607,"t":266,"h":45,"d":"down"},{"w":565,"t":264,"h":31,"d":"down"},{"w":470,"t":21,"h":268,"d":"up"}
],
"aB": [
{"w":3470,"t":270,"h":40,"d":"down"},{"w":1645,"t":271,"h":26,"d":"down"},{"w":1511,"t":264,"h":191,"d":"down"},{"w":1436,"t":264,"h":191,"d":"down"},{"w":1240,"t":30,"h":275,"d":"up"},{"w":1090,"t":250,"h":11,"d":"down"},{"w":872,"t":181,"h":285,"d":"up"},{"w":801,"t":276,"h":35,"d":"down"},{"w":606,"t":266,"h":36,"d":"down"},{"w":565,"t":262,"h":28,"d":"down"},{"w":472,"t":20,"h":265,"d":"up"}
],
"aC": [
{"w":3485,"t":270,"h":45,"d":"down"},{"w":1674,"t":272,"h":75,"d":"down"},{"w":1521,"t":264,"h":187,"d":"down"},{"w":1441,"t":264,"h":187,"d":"down"},{"w":1242,"t":28,"h":265,"d":"up"},{"w":1101,"t":247,"h":10,"d":"down"},{"w":801,"t":263,"h":97,"d":"down"},{"w":605,"t":265,"h":25,"d":"down"},{"w":565,"t":263,"h":22,"d":"down"},{"w":470,"t":20,"h":267,"d":"up"}
],
"aD": [
{"w":3470,"t":272,"h":45,"d":"down"},{"w":1645,"t":272,"h":30,"d":"down"},{"w":1240,"t":12,"h":270,"d":"up"},{"w":1098,"t":245,"h":12,"d":"down"},{"w":801,"t":245,"h":25,"d":"down"},{"w":606,"t":245,"h":102,"d":"down"},{"w":565,"t":245,"h":102,"d":"down"},{"w":472,"t":20,"h":260,"d":"up"}
],
"tA": [
{"w":3349,"v":280,"m":"(A)","b":"","p":""},{"w":973,"v":276,"m":"(Si−O−Si)","b":"AS","p":""},{"w":755,"v":280,"m":"CO","b":"3","p":"2−"},{"w":411,"v":270,"m":"(Si−O−Si)","b":"B","p":""},{"w":3042,"v":21,"m":"−OH","b":"","p":""},{"w":1590,"v":23,"m":"−OH","b":"","p":""},{"w":1458,"v":5,"m":"CO","b":"3","p":"2−"},{"w":939,"v":6,"m":"(P−O)","b":"AS","p":""},{"w":611,"v":26,"m":"(Si−O−Si)","b":"S","p":""},{"w":496,"v":8,"m":"(P−O)","b":"B","p":""}
],
"tB": [
{"w":3366,"v":277,"m":"(B)","b":"","p":""},{"w":1033,"v":278,"m":"(Si−O−Si)","b":"AS","p":""},{"w":755,"v":284,"m":"CO","b":"3","p":"2−"},{"w":413,"v":270,"m":"(Si−O−Si)","b":"B","p":""},{"w":1458,"v":173,"m":"CO","b":"3","p":"2−"},{"w":3042,"v":25,"m":"−OH","b":"","p":""},{"w":1481,"v":11,"m":"−OH","b":"","p":""},{"w":973,"v":6,"m":"(P−O)","b":"AS","p":""},{"w":613,"v":16,"m":"(Si−O−Si)","b":"S","p":""},{"w":471,"v":6,"m":"(P−O)","b":"B","p":""}
],
"tC": [
{"w":3366,"v":277,"m":"(C)","b":"","p":""},{"w":911,"v":277,"m":"(Si−O−Si)","b":"AS","p":""},{"w":1380,"v":168,"m":"CO","b":"3","p":"2−"},{"w":421,"v":275,"m":"(Si−O−Si)","b":"B","p":""},{"w":3200,"v":26,"m":"−OH","b":"","p":""},{"w":1489,"v":57,"m":"−OH","b":"","p":""},{"w":1221,"v":5,"m":"(P−O)","b":"AS","p":""},{"w":616,"v":5,"m":"(Si−O−Si)","b":"S","p":""},{"w":432,"v":5,"m":"(P−O)","b":"B","p":""}
],
"tD": [
{"w":3366,"v":280,"m":"(D)","b":"","p":""},{"w":968,"v":280,"m":"(Si−O−Si)","b":"AS","p":""},{"w":421,"v":268,"m":"(Si−O−Si)","b":"B","p":""},{"w":3150,"v":28,"m":"−OH","b":"","p":""},{"w":1489,"v":10,"m":"−OH","b":"","p":""},{"w":973,"v":2,"m":"(P−O)","b":"AS","p":""},{"w":520,"v":4,"m":"(Si−O−Si)","b":"S","p":""},{"w":513,"v":80,"m":"(P−O)","b":"B","p":""}
],
"sA": [
{"s":"7 d","w":2450,"v":274},{"s":"5 d","w":2450,"v":251},{"s":"3 d","w":2450,"v":229},{"s":"2 d","w":2450,"v":207},{"s":"1 d","w":2450,"v":187},{"s":"12 h","w":2450,"v":165},{"s":"8 h","w":2450,"v":140},{"s":"4 h","w":2450,"v":117},{"s":"2 h","w":2450,"v":97},{"s":"700 ℃","w":2450,"v":73}
],
"sB": [
{"s":"7 d","w":2456,"v":265},{"s":"5 d","w":2456,"v":241},{"s":"3 d","w":2456,"v":226},{"s":"2 d","w":2456,"v":200},{"s":"1 d","w":2456,"v":176},{"s":"12 h","w":2456,"v":155},{"s":"8 h","w":2456,"v":133},{"s":"4 h","w":2456,"v":113},{"s":"2 h","w":2456,"v":90},{"s":"700 ℃","w":2456,"v":64}
],
"sC": [
{"s":"7 d","w":2600,"v":265},{"s":"5 d","w":2600,"v":247},{"s":"3 d","w":2600,"v":223},{"s":"2 d","w":2600,"v":202},{"s":"1 d","w":2600,"v":180},{"s":"12 h","w":2600,"v":155},{"s":"8 h","w":2600,"v":129},{"s":"4 h","w":2600,"v":106},{"s":"2 h","w":2600,"v":87},{"s":"700 ℃","w":2600,"v":62}
],
"sD": [
{"s":"7 d","w":2400,"v":259},{"s":"5 d","w":2400,"v":236},{"s":"3 d","w":2400,"v":216},{"s":"2 d","w":2400,"v":195},{"s":"1 d","w":2400,"v":174},{"s":"12 h","w":2400,"v":153},{"s":"8 h","w":2400,"v":130},{"s":"4 h","w":2400,"v":109},{"s":"2 h","w":2400,"v":88},{"s":"700 ℃","w":2400,"v":65}
]
},
"concat": [
{
 "width": 454, "height": 304,
 "encoding": {
  "x": {"field": "w", "type": "quantitative", "scale": {"type": "log", "domain": [400, 4000], "reverse": true, "nice": false}, "axis": {"title": "Wavenumber / cm⁻¹", "values": [1000, 2000, 3000, 4000], "format": "d"}},
  "y": {"field": "v", "type": "quantitative", "scale": {"domain": [0, 304], "nice": false, "zero": false}, "axis": {"title": "Transmittance"}}
 },
 "layer": [
  {"data": {"name": "A"}, "mark": {"type": "line", "interpolate": "monotone", "strokeWidth": 1.4, "clip": true}, "encoding": {"color": {"field": "s", "type": "nominal", "scale": {"domain": ["7 d","5 d","3 d","2 d","1 d","12 h","8 h","4 h","2 h","700 ℃"], "range": ["#9c9a2c","#8b1a1f","#8b1a82","#7b70cc","#1b1f6e","#4b8b27","#c47cc6","#2e62b4","#e5202b","#111111"]}, "legend": null}}},
  {"data": {"name": "aA"}, "mark": {"type": "rule", "color": "#707070", "strokeWidth": 1.6}, "encoding": {"y": {"field": "t", "type": "quantitative", "title": "Transmittance"}, "y2": {"field": "h"}}},
  {"data": {"name": "aA"}, "mark": {"type": "point", "filled": true, "color": "#505050", "opacity": 1, "size": 576, "strokeWidth": 0}, "encoding": {"y": {"field": "h", "type": "quantitative", "title": "Transmittance"}, "shape": {"field": "d", "type": "nominal", "scale": {"domain": ["down", "up"], "range": ["M0,0L-0.4,-1L0,-0.75L0.4,-1Z", "M0,0L-0.4,1L0,0.75L0.4,1Z"]}, "legend": null}}},
  {"data": {"name": "tA"}, "mark": {"type": "text", "align": "right", "baseline": "alphabetic", "fontSize": 21}, "encoding": {"text": {"field": "m"}}},
  {"data": {"name": "tA"}, "mark": {"type": "text", "align": "left", "baseline": "alphabetic", "fontSize": 13, "dy": 4}, "encoding": {"text": {"field": "b"}}},
  {"data": {"name": "tA"}, "mark": {"type": "text", "align": "left", "baseline": "alphabetic", "fontSize": 13, "dy": -6}, "encoding": {"text": {"field": "p"}}},
  {"data": {"name": "sA"}, "mark": {"type": "text", "align": "center", "baseline": "alphabetic", "fontSize": 20}, "encoding": {"text": {"field": "s"}}}
 ]
},
{
 "width": 450, "height": 304,
 "encoding": {
  "x": {"field": "w", "type": "quantitative", "scale": {"type": "log", "domain": [408, 4000], "reverse": true, "nice": false}, "axis": {"title": "Wavenumber / cm⁻¹", "values": [1000, 2000, 3000, 4000], "format": "d"}},
  "y": {"field": "v", "type": "quantitative", "scale": {"domain": [0, 304], "nice": false, "zero": false}, "axis": {"title": "Transmittance"}}
 },
 "layer": [
  {"data": {"name": "B"}, "mark": {"type": "line", "interpolate": "monotone", "strokeWidth": 1.4, "clip": true}, "encoding": {"color": {"field": "s", "type": "nominal", "scale": {"domain": ["7 d","5 d","3 d","2 d","1 d","12 h","8 h","4 h","2 h","700 ℃"], "range": ["#9c9a2c","#8b1a1f","#8b1a82","#7b70cc","#1b1f6e","#4b8b27","#c47cc6","#2e62b4","#e5202b","#111111"]}, "legend": null}}},
  {"data": {"name": "aB"}, "mark": {"type": "rule", "color": "#707070", "strokeWidth": 1.6}, "encoding": {"y": {"field": "t", "type": "quantitative", "title": "Transmittance"}, "y2": {"field": "h"}}},
  {"data": {"name": "aB"}, "mark": {"type": "point", "filled": true, "color": "#505050", "opacity": 1, "size": 576, "strokeWidth": 0}, "encoding": {"y": {"field": "h", "type": "quantitative", "title": "Transmittance"}, "shape": {"field": "d", "type": "nominal", "scale": {"domain": ["down", "up"], "range": ["M0,0L-0.4,-1L0,-0.75L0.4,-1Z", "M0,0L-0.4,1L0,0.75L0.4,1Z"]}, "legend": null}}},
  {"data": {"name": "tB"}, "mark": {"type": "text", "align": "right", "baseline": "alphabetic", "fontSize": 21, "clip": true}, "encoding": {"text": {"field": "m"}}},
  {"data": {"name": "tB"}, "mark": {"type": "text", "align": "left", "baseline": "alphabetic", "fontSize": 13, "dy": 4, "clip": true}, "encoding": {"text": {"field": "b"}}},
  {"data": {"name": "tB"}, "mark": {"type": "text", "align": "left", "baseline": "alphabetic", "fontSize": 13, "dy": -6, "clip": true}, "encoding": {"text": {"field": "p"}}},
  {"data": {"name": "sB"}, "mark": {"type": "text", "align": "center", "baseline": "alphabetic", "fontSize": 20}, "encoding": {"text": {"field": "s"}}}
 ]
},
{
 "width": 454, "height": 304,
 "encoding": {
  "x": {"field": "w", "type": "quantitative", "scale": {"type": "log", "domain": [400, 4000], "reverse": true, "nice": false}, "axis": {"title": "Wavenumber / cm⁻¹", "values": [1000, 2000, 3000, 4000], "format": "d"}},
  "y": {"field": "v", "type": "quantitative", "scale": {"domain": [0, 304], "nice": false, "zero": false}, "axis": {"title": "Transmittance"}}
 },
 "layer": [
  {"data": {"name": "C"}, "mark": {"type": "line", "interpolate": "monotone", "strokeWidth": 1.4, "clip": true}, "encoding": {"color": {"field": "s", "type": "nominal", "scale": {"domain": ["7 d","5 d","3 d","2 d","1 d","12 h","8 h","4 h","2 h","700 ℃"], "range": ["#9c9a2c","#8b1a1f","#8b1a82","#7b70cc","#1b1f6e","#4b8b27","#c47cc6","#2e62b4","#e5202b","#111111"]}, "legend": null}}},
  {"data": {"name": "aC"}, "mark": {"type": "rule", "color": "#707070", "strokeWidth": 1.6}, "encoding": {"y": {"field": "t", "type": "quantitative", "title": "Transmittance"}, "y2": {"field": "h"}}},
  {"data": {"name": "aC"}, "mark": {"type": "point", "filled": true, "color": "#505050", "opacity": 1, "size": 576, "strokeWidth": 0}, "encoding": {"y": {"field": "h", "type": "quantitative", "title": "Transmittance"}, "shape": {"field": "d", "type": "nominal", "scale": {"domain": ["down", "up"], "range": ["M0,0L-0.4,-1L0,-0.75L0.4,-1Z", "M0,0L-0.4,1L0,0.75L0.4,1Z"]}, "legend": null}}},
  {"data": {"name": "tC"}, "mark": {"type": "text", "align": "right", "baseline": "alphabetic", "fontSize": 21}, "encoding": {"text": {"field": "m"}}},
  {"data": {"name": "tC"}, "mark": {"type": "text", "align": "left", "baseline": "alphabetic", "fontSize": 13, "dy": 4}, "encoding": {"text": {"field": "b"}}},
  {"data": {"name": "tC"}, "mark": {"type": "text", "align": "left", "baseline": "alphabetic", "fontSize": 13, "dy": -6}, "encoding": {"text": {"field": "p"}}},
  {"data": {"name": "sC"}, "mark": {"type": "text", "align": "center", "baseline": "alphabetic", "fontSize": 20}, "encoding": {"text": {"field": "s"}}}
 ]
},
{
 "width": 450, "height": 304,
 "encoding": {
  "x": {"field": "w", "type": "quantitative", "scale": {"type": "log", "domain": [408, 4000], "reverse": true, "nice": false}, "axis": {"title": "Wavenumber / cm⁻¹", "values": [1000, 2000, 3000, 4000], "format": "d"}},
  "y": {"field": "v", "type": "quantitative", "scale": {"domain": [0, 304], "nice": false, "zero": false}, "axis": {"title": "Transmittance"}}
 },
 "layer": [
  {"data": {"name": "D"}, "mark": {"type": "line", "interpolate": "monotone", "strokeWidth": 1.4, "clip": true}, "encoding": {"color": {"field": "s", "type": "nominal", "scale": {"domain": ["7 d","5 d","3 d","2 d","1 d","12 h","8 h","4 h","2 h","700 ℃"], "range": ["#9c9a2c","#8b1a1f","#8b1a82","#7b70cc","#1b1f6e","#4b8b27","#c47cc6","#2e62b4","#e5202b","#111111"]}, "legend": null}}},
  {"data": {"name": "aD"}, "mark": {"type": "rule", "color": "#707070", "strokeWidth": 1.6}, "encoding": {"y": {"field": "t", "type": "quantitative", "title": "Transmittance"}, "y2": {"field": "h"}}},
  {"data": {"name": "aD"}, "mark": {"type": "point", "filled": true, "color": "#505050", "opacity": 1, "size": 576, "strokeWidth": 0}, "encoding": {"y": {"field": "h", "type": "quantitative", "title": "Transmittance"}, "shape": {"field": "d", "type": "nominal", "scale": {"domain": ["down", "up"], "range": ["M0,0L-0.4,-1L0,-0.75L0.4,-1Z", "M0,0L-0.4,1L0,0.75L0.4,1Z"]}, "legend": null}}},
  {"data": {"name": "tD"}, "mark": {"type": "text", "align": "right", "baseline": "alphabetic", "fontSize": 21, "clip": true}, "encoding": {"text": {"field": "m"}}},
  {"data": {"name": "tD"}, "mark": {"type": "text", "align": "left", "baseline": "alphabetic", "fontSize": 13, "dy": 4, "clip": true}, "encoding": {"text": {"field": "b"}}},
  {"data": {"name": "tD"}, "mark": {"type": "text", "align": "left", "baseline": "alphabetic", "fontSize": 13, "dy": -6, "clip": true}, "encoding": {"text": {"field": "p"}}},
  {"data": {"name": "sD"}, "mark": {"type": "text", "align": "center", "baseline": "alphabetic", "fontSize": 20}, "encoding": {"text": {"field": "s"}}}
 ]
}
]
}
